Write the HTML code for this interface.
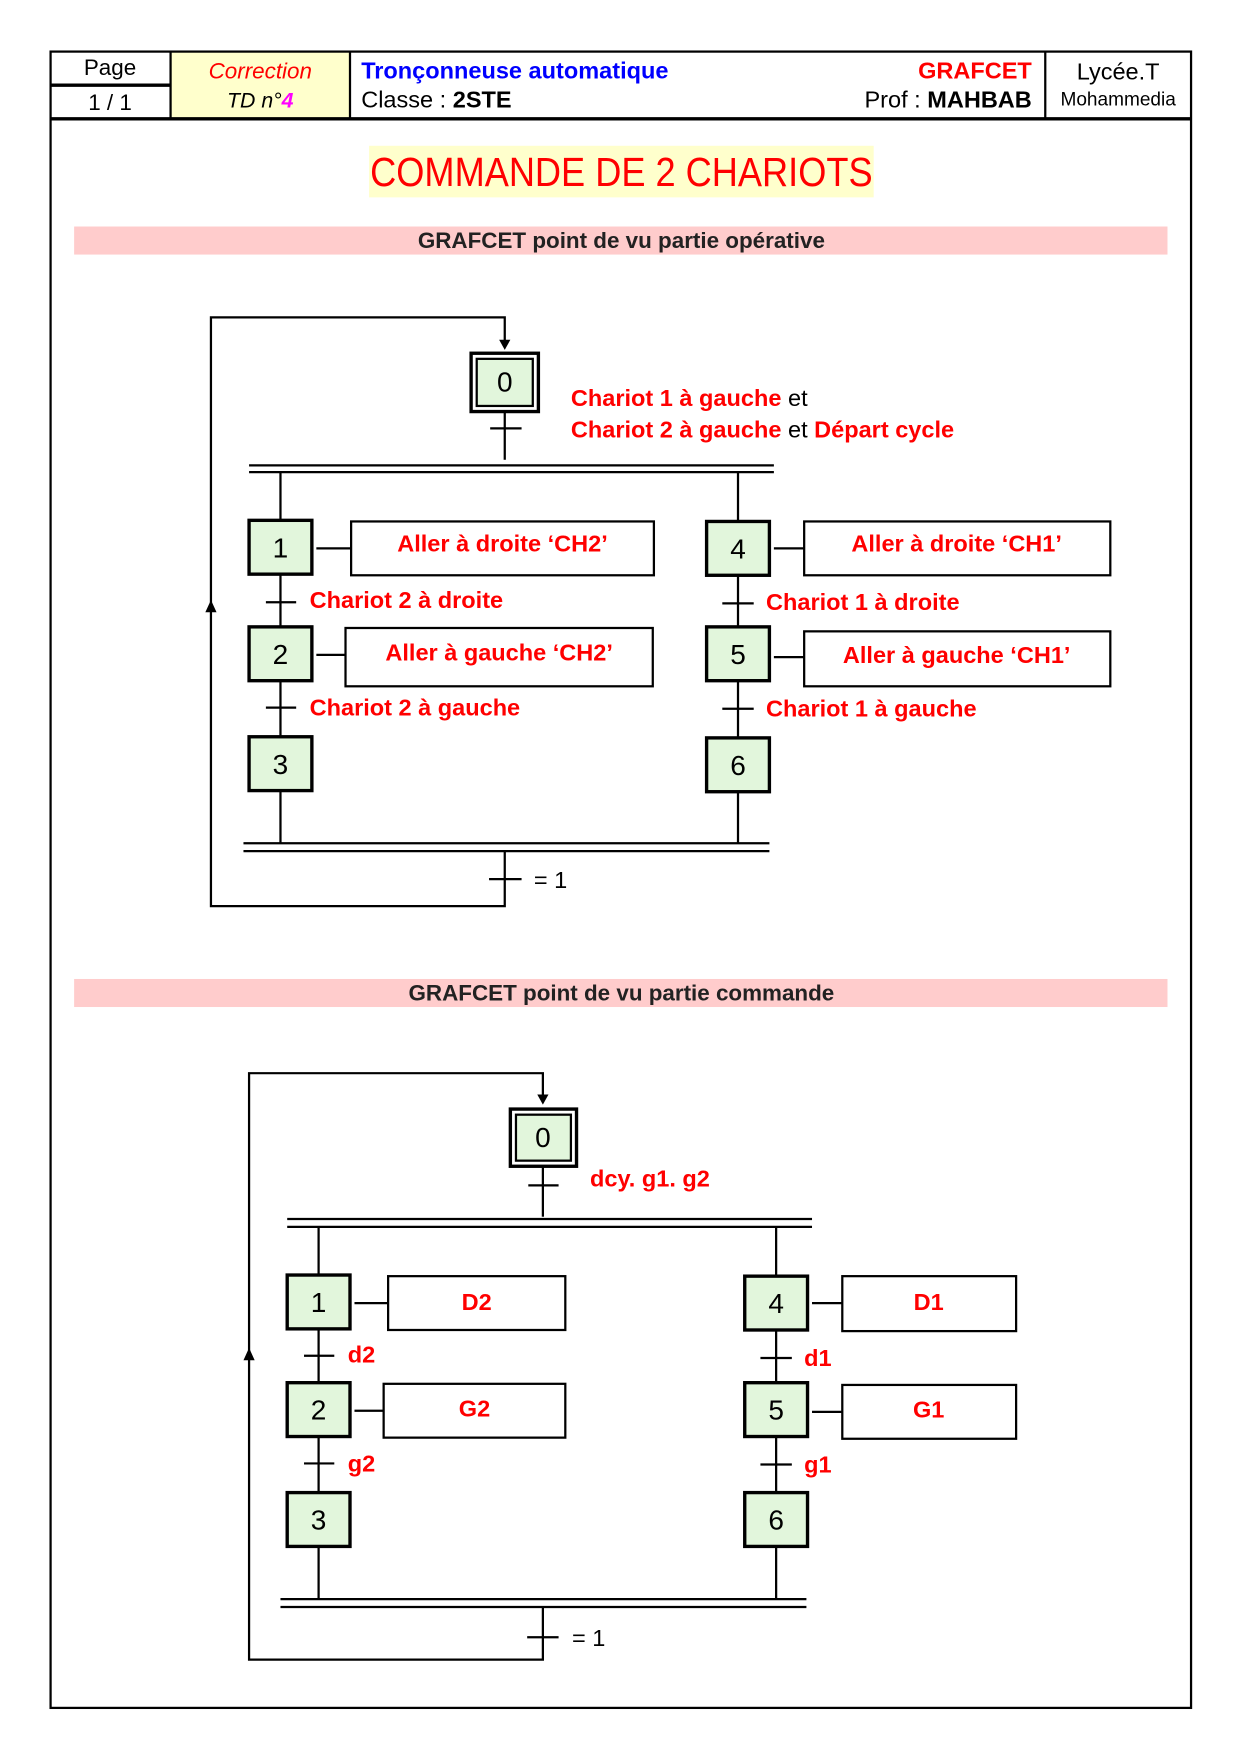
<!DOCTYPE html>
<html><head><meta charset="utf-8"><style>
html,body{margin:0;padding:0;background:#fff}
svg{display:block}
text{font-family:"Liberation Sans","DejaVu Sans",sans-serif}
.r{fill:#f00;font-weight:bold;font-size:21px}
.s{fill:#e2f6dc;stroke:#000;stroke-width:3}
.a{fill:#fff;stroke:#000;stroke-width:2}
.n{font-size:25px;fill:#000}
line,polyline{stroke:#000;stroke-width:2;fill:none}
</style></head><body>
<svg width="1245" height="1755" viewBox="0 0 1110 1565" xmlns="http://www.w3.org/2000/svg">
<!-- header -->
<rect x="152" y="46" width="160" height="60" fill="#ffffcc"/>
<rect x="45" y="46" width="1017" height="1477" fill="none" stroke="#000" stroke-width="2"/>
<line x1="45" y1="106" x2="1062" y2="106" style="stroke-width:3"/>
<line x1="45" y1="76" x2="152" y2="76" style="stroke-width:3"/>
<line x1="152" y1="46" x2="152" y2="106"/>
<line x1="312" y1="46" x2="312" y2="106"/>
<line x1="932" y1="46" x2="932" y2="106"/>
<text x="98" y="67" text-anchor="middle" font-size="20">Page</text>
<text x="98" y="98" text-anchor="middle" font-size="20">1 / 1</text>
<text x="232" y="70" text-anchor="middle" font-size="20" fill="#f00" font-style="italic">Correction</text>
<text x="232" y="96" text-anchor="middle" font-size="19" font-style="italic">TD n°<tspan fill="#f0f" font-weight="bold">4</tspan></text>
<text x="322" y="70" font-size="21" fill="#00f" font-weight="bold">Tronçonneuse automatique</text>
<text x="322" y="96" font-size="21">Classe : <tspan font-weight="bold">2STE</tspan></text>
<text x="920" y="70" text-anchor="end" font-size="21" fill="#f00" font-weight="bold">GRAFCET</text>
<text x="920" y="96" text-anchor="end" font-size="21">Prof : <tspan font-weight="bold">MAHBAB</tspan></text>
<text x="997" y="71" text-anchor="middle" font-size="21">Lycée.T</text>
<text x="997" y="94" text-anchor="middle" font-size="17">Mohammedia</text>
<rect x="329" y="130" width="450" height="46" fill="#ffffcc"/>
<text x="330" y="166" font-size="36" fill="#f00" textLength="448" lengthAdjust="spacingAndGlyphs">COMMANDE DE 2 CHARIOTS</text>
<rect x="66" y="202" width="975" height="25" fill="#ffcccc"/>
<text x="554" y="221" text-anchor="middle" font-size="20" font-weight="bold" fill="#222">GRAFCET point de vu partie opérative</text>
<rect x="66" y="873" width="975" height="25" fill="#ffcccc"/>
<text x="554" y="892" text-anchor="middle" font-size="20" font-weight="bold" fill="#222">GRAFCET point de vu partie commande</text>

<!-- diagram 1 -->
<polyline points="450,367 450,410"/>
<line x1="437" y1="382" x2="465" y2="382"/>
<line x1="222" y1="415" x2="690" y2="415"/><line x1="222" y1="421" x2="690" y2="421"/>
<line x1="250" y1="421" x2="250" y2="752"/><line x1="658" y1="421" x2="658" y2="752"/>
<line x1="237" y1="537" x2="264" y2="537"/><line x1="237" y1="631" x2="264" y2="631"/>
<line x1="644" y1="538" x2="672" y2="538"/><line x1="644" y1="632" x2="672" y2="632"/>
<line x1="217" y1="752" x2="686" y2="752"/><line x1="217" y1="759" x2="686" y2="759"/>
<line x1="436" y1="784" x2="465" y2="784"/>
<polyline points="450,759 450,808 188,808 188,283 450,283 450,305"/>
<polygon points="445,303 455,303 450,312"/>
<polygon points="183,546 193,546 188,535"/>
<rect x="420" y="315" width="60" height="52" fill="#fff" stroke="#000" stroke-width="3"/>
<rect x="425" y="320" width="50" height="42" class="s" style="stroke-width:2"/>
<text x="450" y="349" text-anchor="middle" class="n">0</text>
<text x="509" y="362" class="r">Chariot 1 à gauche <tspan fill="#000" font-weight="normal">et</tspan></text>
<text x="509" y="390" class="r">Chariot 2 à gauche <tspan fill="#000" font-weight="normal">et</tspan> Départ cycle</text>
<rect x="222" y="464" width="56" height="48" class="s"/><text x="250" y="497" text-anchor="middle" class="n">1</text>
<rect x="222" y="559" width="56" height="48" class="s"/><text x="250" y="592" text-anchor="middle" class="n">2</text>
<rect x="222" y="657" width="56" height="48" class="s"/><text x="250" y="690" text-anchor="middle" class="n">3</text>
<rect x="630" y="465" width="56" height="48" class="s"/><text x="658" y="498" text-anchor="middle" class="n">4</text>
<rect x="630" y="559" width="56" height="48" class="s"/><text x="658" y="592" text-anchor="middle" class="n">5</text>
<rect x="630" y="658" width="56" height="48" class="s"/><text x="658" y="691" text-anchor="middle" class="n">6</text>
<line x1="282" y1="489" x2="312" y2="489"/><rect x="313" y="465" width="270" height="48" class="a"/>
<text x="448" y="492" text-anchor="middle" class="r">Aller à droite ‘CH2’</text>
<line x1="282" y1="584" x2="308" y2="584"/><rect x="308" y="560" width="274" height="52" class="a"/>
<text x="445" y="589" text-anchor="middle" class="r">Aller à gauche ‘CH2’</text>
<line x1="690" y1="489" x2="717" y2="489"/><rect x="717" y="465" width="273" height="48" class="a"/>
<text x="853" y="492" text-anchor="middle" class="r">Aller à droite ‘CH1’</text>
<line x1="690" y1="586" x2="717" y2="586"/><rect x="717" y="563" width="273" height="49" class="a"/>
<text x="853" y="591" text-anchor="middle" class="r">Aller à gauche ‘CH1’</text>
<text x="276" y="542" class="r">Chariot 2 à droite</text>
<text x="276" y="638" class="r">Chariot 2 à gauche</text>
<text x="683" y="544" class="r">Chariot 1 à droite</text>
<text x="683" y="639" class="r">Chariot 1 à gauche</text>
<text x="476" y="792" font-size="21">= 1</text>

<!-- diagram 2 -->
<line x1="484" y1="1040" x2="484" y2="1085"/>
<line x1="471" y1="1057" x2="498" y2="1057"/>
<line x1="256" y1="1087" x2="724" y2="1087"/><line x1="256" y1="1094" x2="724" y2="1094"/>
<line x1="284" y1="1094" x2="284" y2="1426"/><line x1="692" y1="1094" x2="692" y2="1426"/>
<line x1="271" y1="1209" x2="298" y2="1209"/><line x1="271" y1="1305" x2="298" y2="1305"/>
<line x1="678" y1="1211" x2="706" y2="1211"/><line x1="678" y1="1306" x2="706" y2="1306"/>
<line x1="250" y1="1426" x2="719" y2="1426"/><line x1="250" y1="1433" x2="719" y2="1433"/>
<line x1="470" y1="1460" x2="498" y2="1460"/>
<polyline points="484,1433 484,1480 222,1480 222,957 484,957 484,978"/>
<polygon points="479,976 489,976 484,985"/>
<polygon points="217,1213 227,1213 222,1202"/>
<rect x="455" y="989" width="59" height="51" fill="#fff" stroke="#000" stroke-width="3"/>
<rect x="460" y="994" width="49" height="41" class="s" style="stroke-width:2"/>
<text x="484" y="1023" text-anchor="middle" class="n">0</text>
<text x="526" y="1058" class="r">dcy. g1. g2</text>
<rect x="256" y="1137" width="56" height="48" class="s"/><text x="284" y="1170" text-anchor="middle" class="n">1</text>
<rect x="256" y="1233" width="56" height="48" class="s"/><text x="284" y="1266" text-anchor="middle" class="n">2</text>
<rect x="256" y="1331" width="56" height="48" class="s"/><text x="284" y="1364" text-anchor="middle" class="n">3</text>
<rect x="664" y="1138" width="56" height="48" class="s"/><text x="692" y="1171" text-anchor="middle" class="n">4</text>
<rect x="664" y="1233" width="56" height="48" class="s"/><text x="692" y="1266" text-anchor="middle" class="n">5</text>
<rect x="664" y="1331" width="56" height="48" class="s"/><text x="692" y="1364" text-anchor="middle" class="n">6</text>
<line x1="316" y1="1162" x2="346" y2="1162"/><rect x="346" y="1138" width="158" height="48" class="a"/>
<text x="425" y="1168" text-anchor="middle" class="r">D2</text>
<line x1="316" y1="1258" x2="342" y2="1258"/><rect x="342" y="1234" width="162" height="48" class="a"/>
<text x="423" y="1263" text-anchor="middle" class="r">G2</text>
<line x1="724" y1="1162" x2="751" y2="1162"/><rect x="751" y="1138" width="155" height="49" class="a"/>
<text x="828" y="1168" text-anchor="middle" class="r">D1</text>
<line x1="724" y1="1259" x2="751" y2="1259"/><rect x="751" y="1235" width="155" height="48" class="a"/>
<text x="828" y="1264" text-anchor="middle" class="r">G1</text>
<text x="310" y="1215" class="r">d2</text>
<text x="310" y="1312" class="r">g2</text>
<text x="717" y="1218" class="r">d1</text>
<text x="717" y="1313" class="r">g1</text>
<text x="510" y="1468" font-size="21">= 1</text>
</svg>
</body></html>
